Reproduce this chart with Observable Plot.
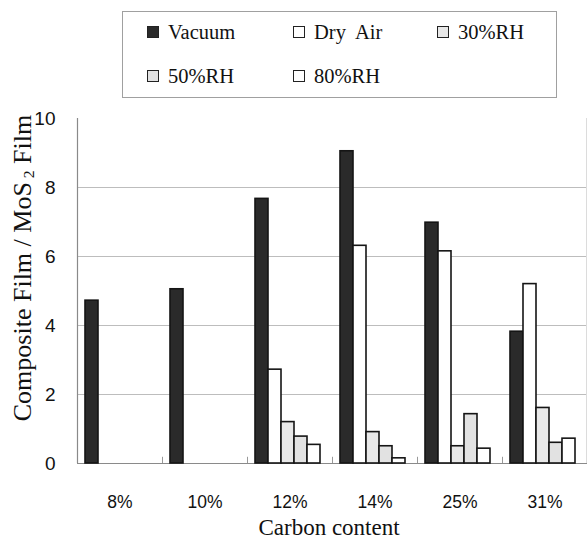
<!DOCTYPE html>
<html>
<head>
<meta charset="utf-8">
<script src="https://cdn.jsdelivr.net/npm/d3@7"></script>
<script src="https://cdn.jsdelivr.net/npm/@observablehq/plot@0.6"></script>
<style>
  html, body { margin: 0; padding: 0; background: #fff; overflow: hidden; }
  #wrap { position: relative; width: 587px; height: 547px; }
  .layer { position: absolute; left: 0; top: 100px; }
  #legend { position: absolute; left: 122px; top: 11px; width: 435px; height: 87px; border: 1px solid #a0a0a0; box-sizing: border-box; }
  .item { position: absolute; display: flex; align-items: center; white-space: pre; line-height: 24px; font-family: "Liberation Serif", "DejaVu Serif", serif; font-size: 20.5px; color: #111; }
  .sw { width: 12px; height: 12px; border: 1.5px solid #222; box-sizing: border-box; margin-right: 9px; }
  .title { position: absolute; font-family: "Liberation Serif", serif; color: #111; white-space: nowrap; transform: translate(-50%, -50%); }
</style>
</head>
<body>
<div id="wrap">
  <div id="legend"></div>
  <div id="bg" class="layer"></div>
  <div id="fg" class="layer"></div>
  <div class="title" style="left:329px; top:528px; font-size:23px;">Carbon content</div>
  <div class="title" style="left:23px; top:268px; font-size:26px; transform: translate(-50%, -50%) rotate(-90deg);">Composite Film / MoS<sub style="font-size:60%; vertical-align:-0.25em;"> 2</sub> Film</div>
</div>
<script>
// ---- data ----
const categories = ["8%", "10%", "12%", "14%", "25%", "31%"];
const seriesNames = ["Vacuum", "Dry  Air", "30%RH", "50%RH", "80%RH"];
const vacuum = [4.72, 5.05, 7.67, 9.05, 6.98, 3.82];
const dryAir = [null, null, 2.72, 6.31, 6.15, 5.20];
const rh30   = [null, null, 1.20, 0.91, 0.50, 1.61];
const rh50   = [null, null, 0.78, 0.50, 1.43, 0.60];
const rh80   = [null, null, 0.54, 0.15, 0.43, 0.72];
const yTicks = [0, 2, 4, 6, 8, 10];
const gridTicks = [2, 4, 6, 8];

// ---- styles ----
const fills = ["#2a2a2a", "#ffffff", "#e8e8e8", "#e2e2e2", "#ffffff"];
const W = 587, H = 447, ML = 77, MR = 0, MT = 18, MB = 84;
const halfBand = (W - ML - MR) / categories.length / 2;

const seriesValues = [vacuum, dryAir, rh30, rh50, rh80];
const rows = [];
categories.forEach((c, i) => {
  seriesNames.forEach((s, j) => {
    const v = seriesValues[j][i];
    if (v != null) rows.push({cat: c, series: s, value: v});
  });
});

// background: grid, axes, labels
const bg = Plot.plot({
  width: W, height: H, marginLeft: ML, marginRight: MR, marginTop: MT, marginBottom: MB,
  x: {type: "band", domain: categories, padding: 0},
  y: {domain: [0, 10]},
  style: {background: "transparent", fontFamily: "Liberation Sans, Arial, sans-serif", color: "#111"},
  marks: [
    Plot.gridY(gridTicks, {stroke: "#bdbdbd", strokeOpacity: 1, strokeWidth: 1}),
    Plot.ruleX(categories.slice(-1), {x: d => d, dx: halfBand - 1, y1: 0, y2: 10, stroke: "#dcdcdc"}),
    Plot.ruleX(categories.slice(1), {x: d => d, dx: -halfBand, y1: 0, y2: 0.18, stroke: "#999"}),
    Plot.ruleY([0], {stroke: "#8a8a8a", strokeWidth: 1.2}),
    Plot.ruleX(categories.slice(0, 1), {x: d => d, dx: -halfBand, y1: 0, y2: 10, stroke: "#8a8a8a", strokeWidth: 1.2}),
    Plot.axisX({tickSize: 0, tickPadding: 32, fontSize: 17.5, label: null}),
    Plot.axisY({ticks: yTicks, tickSize: 0, tickPadding: 22, fontSize: 19, label: null})
  ]
});
document.getElementById("bg").appendChild(bg);

// foreground: grouped bars
const fg = Plot.plot({
  width: W, height: H, marginLeft: ML, marginRight: MR, marginTop: MT, marginBottom: MB,
  facet: {data: rows, x: "cat"},
  fx: {domain: categories, padding: 0, axis: null, label: null},
  x: {domain: seriesNames, paddingInner: 0, paddingOuter: 0.625, align: 0.4, axis: null},
  y: {domain: [0, 10], axis: null},
  color: {domain: seriesNames, range: fills},
  style: {background: "transparent"},
  marks: [
    Plot.barY(rows, {x: "series", y: "value", fill: "series", stroke: "#151515", strokeWidth: 1.6})
  ]
});
document.getElementById("fg").appendChild(fg);

// legend
const legend = document.getElementById("legend");
const pos = [[24, 8], [170, 8], [314, 8], [24, 52], [170, 52]];
seriesNames.forEach((s, i) => {
  const it = document.createElement("div");
  it.className = "item";
  it.style.left = pos[i][0] + "px";
  it.style.top = pos[i][1] + "px";
  const sw = document.createElement("span");
  sw.className = "sw";
  sw.style.background = fills[i];
  const tx = document.createElement("span");
  tx.textContent = s;
  it.appendChild(sw); it.appendChild(tx);
  legend.appendChild(it);
});
</script>
</body>
</html>
